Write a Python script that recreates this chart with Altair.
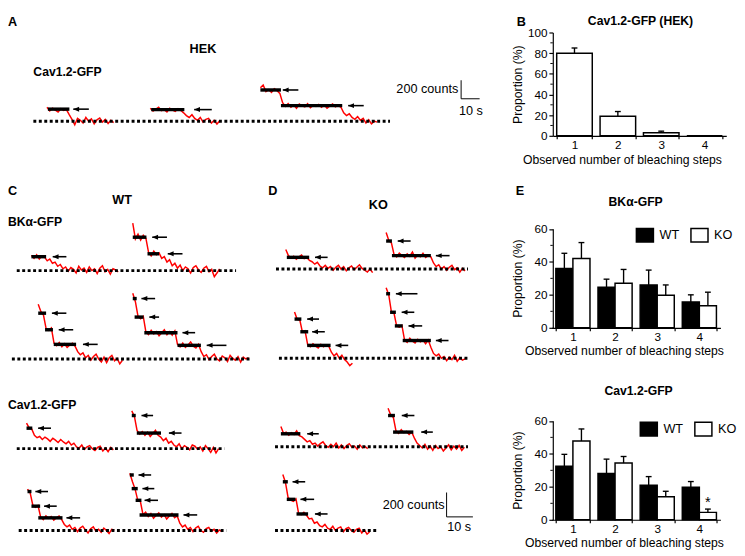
import altair as alt
import pandas as pd

FONT = "Liberation Sans"

# ---------------- bar chart values ----------------
STEPS = ["1", "2", "3", "4"]
HEK_MEAN = [80, 19, 3, 0]
HEK_SEM = [5, 4.5, 1.5, 0]
BK_WT = [36, 24.6, 26, 15.7]
BK_WT_SEM = [9.2, 4.9, 9, 4.3]
BK_KO = [42, 27, 19.7, 13.4]
BK_KO_SEM = [9.7, 8.4, 6.3, 8.2]
CAV_WT = [32.5, 28.1, 20.9, 19.7]
CAV_WT_SEM = [7.2, 8.7, 5.3, 3.5]
CAV_KO = [47.8, 34.4, 14.0, 4.5]
CAV_KO_SEM = [7.3, 4.0, 3.3, 2.0]

# ---------------- photobleaching traces (counts above background) ----------------
A1 = [150, 110, 140, 120, 100, 135, 115, 125, 70, 20, -40, 30, 10, -20, 40, 0, 25, -30, 15, 35, -10, 20, -25, 10, -15]
A2 = [140, 110, 130, 150, 115, 125, 100, 140, 120, 105, 135, 115, 90, 60, 40, 70, 30, 10, 40, -10, 20, 30, -20, 10, -30, 5]
A3 = [360, 390, 320, 340, 310, 350, 330, 300, 200, 160, 190, 150, 175, 140, 185, 165, 155, 190, 145, 170, 160, 180,
      150, 175, 140, 165, 185, 155, 170, 150, 90, 60, 80, 40, 20, 50, 10, 30, -20, 15, -30, 0, -10]
C1 = [125, 100, 130, 95, 120, 110, 80, 95, 60, 70, 35, 50, 15, 30, -5, 25, 10, -20, 35, 5, 20, -15, 30, 0, 15, -25,
      20, 40, -10, 10, -30, 15, 5, -10]
C2 = [390, 260, 300, 250, 290, 265, 150, 120, 160, 130, 145, 100, 115, 70, 90, 40, 60, 20, 45, 0, 30, 15, -20, 25,
      40, 5, -15, 20, 35, -10, 10, -50, -20, 15]
C3 = [450, 390, 360, 250, 235, 255, 130, 110, 135, 100, 125, 95, 115, 130, 105, 60, 35, 50, 10, 30, -10, 20, 40, 0,
      -25, 15, -30, 10, 30, -15, 5, -40, -10]
C4 = [540, 470, 350, 330, 350, 220, 200, 235, 205, 225, 190, 215, 240, 200, 225, 195, 230, 120, 100, 130, 95, 115,
      140, 105, 90, 120, 60, 20, 35, -5, 20, 40, 0, -15, 25, 10, -20, 30, 5, -10, 20, -25, 15, 0, 10]
C5 = [210, 170, 160, 110, 90, 100, 75, 95, 80, 60, 85, 70, 50, 75, 55, 40, 60, 30, 45, 15, 5, 30, -5, 15, 25, 0, -15,
      10, 20, -20, 5, -25, 10, -10]
C6 = [310, 265, 150, 120, 140, 110, 135, 100, 125, 150, 110, 95, 65, 85, 45, 60, 30, 15, 40, 0, 25, 10, -10, 30, 20,
      -5, 15, -20, 25, 0, -30, 10, -35, 0]
C7 = [340, 310, 210, 190, 205, 110, 90, 120, 100, 115, 85, 105, 120, 90, 50, 30, 45, 10, 25, -10, 20, 35, 5, -20, 15,
      30, -5, 10, -15, 20, 0, -25, 10, 5]
C8 = [470, 400, 340, 250, 240, 130, 150, 115, 140, 100, 125, 145, 110, 130, 95, 120, 140, 105, 120, 60, 30, 45, 10,
      25, -10, 20, 35, 0, -15, 15, 25, -5, 10, -20, 5, -10]
D1 = [160, 110, 90, 105, 80, 100, 115, 85, 95, 70, 60, 40, 55, 25, 10, 30, 5, 20, -10, 15, 30, 0, 20, -15, 10, 25, -5,
      15, 35, 5, -10, -25, 0, -30]
D2 = [300, 235, 215, 120, 100, 130, 110, 95, 125, 105, 140, 90, 115, 100, 130, 95, 110, 100, 50, 20, 35, 0, 20, -10,
      15, 30, -5, 10, -25, 5, -15]
D3 = [380, 320, 315, 215, 225, 110, 95, 120, 100, 85, 115, 95, 110, 100, 50, 20, 40, 0, 25, -10, -30, -60, -40]
D4 = [580, 520, 380, 370, 265, 255, 270, 150, 130, 165, 140, 125, 155, 135, 150, 120, 150, 90, 40, 20, 35, 0, 15, -20,
      10, -10, 25, -25, 5, -15, -5]
D5 = [165, 110, 120, 95, 115, 100, 130, 90, 80, 60, 40, 50, 20, 30, 5, 25, 40, 10, -5, 20, 0, 30, -10, 15, -15, 10,
      25, -5, 5, -20, 15, -10, 0, -15]
D6 = [315, 260, 240, 130, 110, 140, 115, 125, 100, 120, 70, 30, 10, -10, 20, -20, 5, -30, 10, -15, 0, -35, -10, 15,
      -25, 5, -20, 10, -30, -5]
D7 = [460, 395, 270, 250, 240, 260, 140, 130, 150, 125, 95, 100, 60, 70, 40, 30, 50, 20, 10, 35, 0, 20, 30, -10, 15,
      25, 0, -15, 10, 20, -20, 5, -30, -10]

TRACES = {"A1": A1, "A2": A2, "A3": A3, "C1": C1, "C2": C2, "C3": C3, "C4": C4, "C5": C5, "C6": C6,
          "C7": C7, "C8": C8, "D1": D1, "D2": D2, "D3": D3, "D4": D4, "D5": D5, "D6": D6, "D7": D7}

# placement of each trace in its panel: (panel, start time s, baseline counts, sampling interval s)
TRACE_LAYOUT = {
    "A1": ("A", 21.05, 0, 1.5), "A2": ("A", 76.84, 0, 1.5), "A3": ("A", 136.3, 0, 1.5),
    "C1": ("CDup", 8.89, 469.6, 1), "C2": ("CDup", 47.41, 469.6, 1),
    "C3": ("CDup", 11.48, -256, 1), "C4": ("CDup", 47.41, -256, 1),
    "D1": ("CDup", 105.56, 482.4, 1), "D2": ("CDup", 143.7, 482.4, 1),
    "D3": ("CDup", 108.89, -250.4, 1), "D4": ("CDup", 143.7, -250.4, 1),
    "C5": ("CDlow", 7.04, 584, 1), "C6": ("CDlow", 47.04, 584, 1),
    "C7": ("CDlow", 7.41, -88, 1), "C8": ("CDlow", 46.3, -88, 1),
    "D5": ("CDlow", 103.7, 600, 1), "D6": ("CDlow", 144.44, 600, 1), "D7": ("CDlow", 104.44, -88, 1),
}

# step levels marked by black bars: (trace, t start, t end, level) relative to trace start
STEP_BARS = [
    ("A1", 0.5, 12.1, 130), ("A2", 0.5, 18.4, 125), ("A3", 0, 11.1, 337), ("A3", 11.1, 44.2, 168),
    ("C1", 0, 5.6, 114), ("C2", 0, 5.2, 274), ("C2", 5.6, 10, 138),
    ("C3", 0, 3, 376), ("C3", 2.6, 5.6, 240), ("C3", 5.9, 14.4, 120),
    ("C4", 0, 1.5, 496), ("C4", 0.7, 4.1, 344), ("C4", 4.4, 17, 216), ("C4", 17, 25.9, 112),
    ("C5", 0, 2.2, 168), ("C6", 0, 1.5, 272), ("C6", 1.9, 11.1, 128),
    ("C7", 0, 1.5, 320), ("C7", 1.5, 4.8, 200), ("C7", 4.1, 13.3, 104),
    ("C8", 0, 1.5, 456), ("C8", 0.7, 3, 344), ("C8", 2.2, 4.4, 248), ("C8", 3.7, 18.5, 128),
    ("D1", 0.4, 8.9, 96), ("D2", 0, 2.2, 230), ("D2", 2.2, 17, 110),
    ("D3", 0, 2.6, 322), ("D3", 2.2, 5.2, 218), ("D3", 4.8, 13.7, 106),
    ("D4", 0, 1.5, 530), ("D4", 1.5, 3.7, 378), ("D4", 3.3, 6.3, 266), ("D4", 6.3, 17, 146),
    ("D5", 0, 7.4, 106), ("D6", 0, 2.6, 256), ("D6", 1.9, 9.6, 120),
    ("D7", 0, 1.9, 400), ("D7", 1.5, 4.8, 256), ("D7", 5.2, 9.6, 136),
]

# arrows: (trace, level, tip time, tail time)
ARROWS = [
    ("A1", 130, 14.2, 22.6), ("A2", 125, 23.7, 33.2), ("A3", 337, 12.1, 20.5), ("A3", 168, 47.4, 55.8),
    ("C1", 114, 8.1, 13.3), ("C2", 274, 7.4, 13), ("C2", 138, 13.3, 18.9),
    ("C3", 376, 5.2, 10.7), ("C3", 240, 7.8, 13.3), ("C3", 120, 17, 22.6),
    ("C4", 496, 3.3, 8.5), ("C4", 344, 6.3, 10), ("C4", 216, 18.9, 23.7), ("C4", 112, 28.1, 35.6),
    ("C5", 168, 4.4, 9.3), ("C6", 272, 3.7, 8.1), ("C6", 128, 14.1, 18.9),
    ("C7", 320, 3, 7.8), ("C7", 200, 6.3, 11.1), ("C7", 104, 14.8, 20),
    ("C8", 456, 3.3, 8.1), ("C8", 344, 4.8, 9.3), ("C8", 248, 5.6, 10.7), ("C8", 128, 20.4, 25.6),
    ("D1", 96, 11.1, 15.9), ("D2", 230, 4.4, 9.3), ("D2", 110, 18.9, 24.1),
    ("D3", 322, 4.8, 9.3), ("D3", 218, 6.7, 11.5), ("D3", 106, 15.6, 20.4),
    ("D4", 530, 3.7, 11.9), ("D4", 378, 5.9, 10.7), ("D4", 266, 8.5, 13.7), ("D4", 146, 18.9, 23.7),
    ("D5", 106, 10, 14.4), ("D6", 256, 5.2, 10), ("D6", 120, 12.6, 17),
    ("D7", 400, 3.7, 8.5), ("D7", 256, 6.7, 11.9), ("D7", 136, 12.2, 17),
]

# dotted background baselines: (panel, t from, t to, baseline counts)
BASELINES = [
    ("A", 13.7, 206.3, 0),
    ("CDup", 3.33, 86.67, 469.6), ("CDup", 1.48, 92.22, -256),
    ("CDup", 101.85, 174.81, 482.4), ("CDup", 102.96, 174.81, -250.4),
    ("CDlow", 3.33, 82.22, 584), ("CDlow", 4.07, 82.96, -88),
    ("CDlow", 101.48, 174.81, 600), ("CDlow", 101.48, 140, -88),
]

# scale bars 10 s x 200 counts: (panel, t, counts)
SCALE_BARS = [("A", 244.7, 242), ("CDlow", 166.67, 24)]

# panel geometry (pixels) and pixel-per-unit factors
LEFT_W = 559
RIGHT_W = 178
ROW_H = [123, 197, 197]
PANEL = {
    "A": dict(h=ROW_H[0], kx=1.9, ky=0.095, y0=-158),
    "CDup": dict(h=ROW_H[1], kx=2.7, ky=0.125, y0=0),
    "CDlow": dict(h=ROW_H[2], kx=2.7, ky=0.125, y0=0),
}


def label(text, x, y, size=13, weight="normal", align="left", baseline="middle"):
    return alt.Chart(alt.Data(values=[{}])).mark_text(
        text=text, fontSize=size, fontWeight=weight, align=align, baseline=baseline,
        font=FONT, color="black"
    ).encode(x=alt.value(x), y=alt.value(y))


def trace_panel(panel, labels):
    g = PANEL[panel]
    xs = alt.Scale(domain=[0, LEFT_W / g["kx"]], nice=False, zero=False)
    ys = alt.Scale(domain=[g["y0"], g["y0"] + g["h"] / g["ky"]], nice=False, zero=False)

    tr_rows, bar_rows, arr_rows = [], [], []
    for name, (p, start, base, dt) in TRACE_LAYOUT.items():
        if p != panel:
            continue
        for i, v in enumerate(TRACES[name]):
            tr_rows.append({"trace": name, "t": start + i * dt, "c": base + v})
    for name, t0, t1, lvl in STEP_BARS:
        p, start, base, dt = TRACE_LAYOUT[name]
        if p == panel:
            bar_rows.append({"x": start + t0, "x2": start + t1, "y": base + lvl})
    for name, lvl, tip, tail in ARROWS:
        p, start, base, dt = TRACE_LAYOUT[name]
        if p == panel:
            arr_rows.append({"x": start + tip, "x2": start + tail, "y": base + lvl})
    base_rows = [{"x": a, "x2": b, "y": c} for p, a, b, c in BASELINES if p == panel]
    sb_rows = []
    for p, t, c in SCALE_BARS:
        if p == panel:
            sb_rows.append({"x": t, "x2": t, "y": c, "y2": c + 200})
            sb_rows.append({"x": t, "x2": t + 10, "y": c, "y2": c})

    X = lambda f: alt.X(f, type="quantitative", scale=xs, axis=None)
    Y = lambda f: alt.Y(f, type="quantitative", scale=ys, axis=None)

    layers = [
        alt.Chart(pd.DataFrame(tr_rows)).mark_line(color="#ff0000", strokeWidth=1.5).encode(
            x=X("t"), y=Y("c"), detail="trace:N", order="t:Q"),
        alt.Chart(pd.DataFrame(base_rows)).mark_rule(color="black", strokeWidth=3, strokeDash=[3, 2.6]).encode(
            x=X("x"), x2="x2", y=Y("y")),
        alt.Chart(pd.DataFrame(bar_rows)).mark_rule(color="black", strokeWidth=3.5).encode(
            x=X("x"), x2="x2", y=Y("y")),
        alt.Chart(pd.DataFrame(arr_rows)).mark_rule(color="black", strokeWidth=1.6).encode(
            x=X("x"), x2="x2", y=Y("y")),
        alt.Chart(pd.DataFrame(arr_rows)).mark_point(
            shape="M0,0L2,-0.85L2,0.85Z", size=36, filled=True, color="black", opacity=1, strokeWidth=0
        ).encode(x=X("x"), y=Y("y")),
    ]
    if sb_rows:
        layers.append(alt.Chart(pd.DataFrame(sb_rows)).mark_rule(color="black", strokeWidth=1).encode(
            x=X("x"), x2="x2", y=Y("y"), y2="y2"))
    layers += labels
    return alt.layer(*layers).properties(width=LEFT_W, height=g["h"])


def axis_style(**kw):
    base = dict(domainColor="black", tickColor="black", labelColor="black", titleColor="black",
                labelFont=FONT, titleFont=FONT, labelFontSize=12, titleFontSize=12.5,
                titleFontWeight="normal", domainWidth=1.2, tickWidth=1.2, grid=False)
    base.update(kw)
    return alt.Axis(**base)


def minor_ticks(values, yscale, yaxis):
    return alt.Chart(pd.DataFrame({"v": values})).mark_rule(color="black", strokeWidth=1).encode(
        y=alt.Y("v:Q", scale=yscale, axis=yaxis), x=alt.value(-2.5), x2=alt.value(0))


# ---------------- panel B ----------------
b_df = pd.DataFrame({"step": STEPS, "mean": HEK_MEAN, "hi": [m + e for m, e in zip(HEK_MEAN, HEK_SEM)]})
b_xs = alt.Scale(range=[0, RIGHT_W], paddingInner=0.18, paddingOuter=0.09)
b_ys = alt.Scale(domain=[0, 100], range=[123, 17], nice=False)
b_xa = axis_style(labelAngle=0, tickBand="extent", tickSize=3, labelPadding=1,
                  title="Observed number of bleaching steps", titleX=71, titleY=18, titleAlign="center")
b_ya = axis_style(values=[0, 20, 40, 60, 80, 100], tickSize=4, labelPadding=2,
                  title="Proportion (%)", titleX=-29, titleY=70)
bx = alt.X("step:N", scale=b_xs, axis=b_xa, sort=STEPS)
b_base = alt.Chart(b_df)
chart_b = alt.layer(
    b_base.mark_bar(fill="white", stroke="black", strokeWidth=1.5).encode(
        x=bx, y=alt.Y("mean:Q", scale=b_ys, axis=b_ya)),
    b_base.mark_rule(color="black", strokeWidth=1.4).encode(
        x=bx, y=alt.Y("mean:Q", scale=b_ys, axis=b_ya), y2="hi:Q"),
    b_base.mark_tick(orient="horizontal", size=6, thickness=1.4, color="black", opacity=1).encode(
        x=bx, y=alt.Y("hi:Q", scale=b_ys, axis=b_ya)),
    minor_ticks([10, 30, 50, 70, 90], b_ys, b_ya),
    label("B", -37, 0, size=13, weight="bold", baseline="top"),
    label("Cav1.2-GFP (HEK)", 90, 5, size=12.5, weight="bold", align="center"),
).properties(width=RIGHT_W, height=ROW_H[0])


# ---------------- panel E ----------------
def e_chart(wt, wt_sem, ko, ko_sem, title, title_xy, legend_xy, extra):
    rows = []
    for s, m, e in zip(STEPS, wt, wt_sem):
        rows.append({"step": s, "group": "WT", "mean": m, "hi": m + e})
    for s, m, e in zip(STEPS, ko, ko_sem):
        rows.append({"step": s, "group": "KO", "mean": m, "hi": m + e})
    df = pd.DataFrame(rows)
    xs = alt.Scale(range=[-1, 172], paddingInner=0.19, paddingOuter=0.095)
    ys = alt.Scale(domain=[0, 60], range=[197, 95.5], nice=False)
    xa = axis_style(labelAngle=0, tickBand="extent", tickSize=3, labelPadding=1,
                    title="Observed number of bleaching steps", titleX=73, titleY=17, titleAlign="center")
    ya = axis_style(values=[0, 20, 40, 60], tickSize=4, labelPadding=2,
                    title="Proportion (%)", titleX=-29, titleY=146)
    x = alt.X("step:N", scale=xs, axis=xa, sort=STEPS)
    xo = alt.XOffset("group:N", sort=["WT", "KO"], scale=alt.Scale(paddingInner=0, paddingOuter=0))
    legend = alt.Legend(orient="none", legendX=legend_xy[0], legendY=legend_xy[1], direction="horizontal",
                        title=None, symbolType="M-1.25,-1L1.25,-1L1.25,1L-1.25,1Z", symbolSize=196,
                        symbolStrokeColor="black", symbolStrokeWidth=1.5, labelFontSize=13, labelFont=FONT,
                        labelColor="black", labelOffset=7, columnPadding=8, padding=0)
    base = alt.Chart(df)
    layers = [
        base.mark_bar(stroke="black", strokeWidth=1.5).encode(
            x=x, xOffset=xo, y=alt.Y("mean:Q", scale=ys, axis=ya),
            fill=alt.Fill("group:N", scale=alt.Scale(domain=["WT", "KO"], range=["black", "white"]),
                          legend=legend)),
        base.mark_rule(color="black", strokeWidth=1.4).encode(
            x=x, xOffset=xo, y=alt.Y("mean:Q", scale=ys, axis=ya), y2="hi:Q"),
        base.mark_tick(orient="horizontal", size=6, thickness=1.4, color="black", opacity=1).encode(
            x=x, xOffset=xo, y=alt.Y("hi:Q", scale=ys, axis=ya)),
        minor_ticks([10, 30, 50], ys, ya),
        label(title, title_xy[0], title_xy[1], size=12.5, weight="bold", align="center"),
    ]
    if extra == "star":
        layers.append(base.transform_filter(
            (alt.datum.step == "4") & (alt.datum.group == "KO")
        ).mark_text(text="*", fontSize=15, font=FONT, color="black", dy=-7, baseline="middle").encode(
            x=x, xOffset=xo, y=alt.Y("hi:Q", scale=ys, axis=ya)))
    if extra == "E":
        layers.append(label("E", -38, 57, size=13, weight="bold"))
    return alt.layer(*layers).properties(width=RIGHT_W, height=197)


chart_e1 = e_chart(BK_WT, BK_WT_SEM, BK_KO, BK_KO_SEM, "BKα-GFP", (85, 68), (86.5, 94), "E")
chart_e2 = e_chart(CAV_WT, CAV_WT_SEM, CAV_KO, CAV_KO_SEM, "Cav1.2-GFP", (88, 65), (90.5, 96), "star")

# ---------------- trace panels ----------------
chart_a = trace_panel("A", [
    label("A", 0, 0, size=13, weight="bold", baseline="top"),
    label("HEK", 200, 34, size=13, weight="bold", align="center"),
    label("Cav1.2-GFP", 26, 58, size=12.5, weight="bold"),
    label("200 counts", 462, 75, size=13, align="right"),
    label("10 s", 475, 98, size=13, align="center"),
])
chart_cd_up = trace_panel("CDup", [
    label("C", 0, 57, size=13, weight="bold"),
    label("WT", 117, 66, size=13, weight="bold", align="center"),
    label("BKα-GFP", 0, 89, size=12.5, weight="bold"),
    label("D", 267, 57, size=13, weight="bold"),
    label("KO", 380, 71, size=13, weight="bold", align="center"),
])
chart_cd_low = trace_panel("CDlow", [
    label("Cav1.2-GFP", 0, 79, size=12.5, weight="bold"),
    label("200 counts", 448, 182, size=13, align="right"),
    label("10 s", 463, 204, size=13, align="center"),
])

chart = alt.concat(
    chart_a, chart_b, chart_cd_up, chart_e1, chart_cd_low, chart_e2,
    columns=2, spacing=0, bounds="flush"
).resolve_scale(fill="independent").resolve_legend(fill="independent").properties(
    padding=0
).configure_view(stroke=None)

chart.save("out.html", embed_options={"renderer": "svg", "actions": False})
